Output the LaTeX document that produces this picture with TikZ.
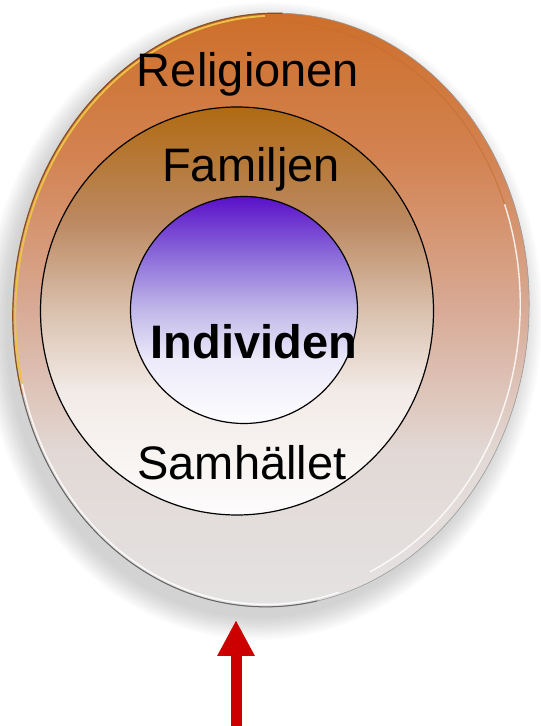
\documentclass[tikz,border=0pt]{standalone}
\usepackage{fontspec}
\setmainfont{Liberation Sans}
\usetikzlibrary{shapes.geometric, arrows.meta}
\definecolor{rimgold}{RGB}{236, 196, 70}
\definecolor{rimbrown}{RGB}{140, 78, 28}
\definecolor{rimorange}{RGB}{196, 110, 50}
\definecolor{arrowred}{RGB}{204, 0, 0}
% vertical shadings, bottom to top (the shape spans 25bp to 75bp)
\pgfdeclareverticalshading{discshade}{100bp}{
  rgb(0bp)=(0.894,0.886,0.886); rgb(25bp)=(0.894,0.886,0.886);
  rgb(37.5bp)=(0.886,0.851,0.839); rgb(50bp)=(0.847,0.663,0.580);
  rgb(62.5bp)=(0.827,0.510,0.314); rgb(75bp)=(0.804,0.431,0.157);
  rgb(100bp)=(0.804,0.431,0.157)}
\pgfdeclareverticalshading{famshade}{100bp}{
  rgb(0bp)=(0.992,0.988,0.988); rgb(25bp)=(0.992,0.988,0.988);
  rgb(40bp)=(0.949,0.922,0.906); rgb(50bp)=(0.855,0.757,0.682);
  rgb(61bp)=(0.737,0.537,0.380); rgb(75bp)=(0.690,0.416,0.071);
  rgb(100bp)=(0.690,0.416,0.071)}
\pgfdeclareverticalshading{indshade}{100bp}{
  rgb(0bp)=(0.992,0.992,1.000); rgb(25bp)=(0.992,0.992,1.000);
  rgb(39bp)=(0.925,0.918,0.980); rgb(50bp)=(0.757,0.722,0.910);
  rgb(62.5bp)=(0.537,0.408,0.851); rgb(75bp)=(0.353,0.063,0.784);
  rgb(100bp)=(0.353,0.063,0.784)}

\begin{document}
\begin{tikzpicture}[x=1pt, y=1pt,
  ringlabel/.style={font=\fontsize{47}{56}\selectfont, anchor=base, inner sep=0pt},
  ringline/.style={draw=black, line width=1.2pt},
  rimarc/.style={shift={(271,416)}, rotate=-4}]
  \useasboundingbox (0,0) rectangle (541,726);

  % Shadow
  \foreach \s in {1,...,12}
    \fill[black, opacity=0.014, shift={(263,405)}, rotate=-4] (0,0) ellipse ({255+2*\s} and {295+2*\s});

  % Disc
  \node[ellipse, minimum width=516pt, minimum height=594pt, rotate=-4, inner sep=0pt,
        shading=discshade, draw=black!40, line width=0.6pt] (relring) at (271,416) {};
  \draw[rimarc, rimbrown, line width=1.2pt]
    (92:258 and 297) arc[start angle=92, end angle=200, x radius=258, y radius=297];
  \draw[rimarc, rimgold, line width=1.8pt]
    (96:255.5 and 294.5) arc[start angle=96, end angle=198, x radius=255.5, y radius=294.5];
  \draw[rimarc, black!60, line width=1pt]
    (200:258 and 297) arc[start angle=200, end angle=285, x radius=258, y radius=297];
  \draw[rimarc, white, opacity=0.9, line width=1.3pt]
    (198:255.5 and 294.5) arc[start angle=198, end angle=290, x radius=255.5, y radius=294.5];
  \draw[rimarc, rimorange, opacity=0.7, line width=1pt]
    (25:249 and 288) arc[start angle=25, end angle=92, x radius=249, y radius=288];
  \draw[rimarc, white, opacity=0.85, line width=1.4pt]
    (-62:249 and 288) arc[start angle=-62, end angle=25, x radius=249, y radius=288];

  % Rings
  \node[ellipse, minimum width=393pt, minimum height=408pt, inner sep=0pt, ringline,
        shading=famshade] (famring) at (237,415) {};
  \node[circle, minimum size=227pt, inner sep=0pt, ringline,
        shading=indshade] (indring) at (244,416) {};

  % Labels
  \node[ringlabel] (lblrel) at (248,639) {Religionen};
  \node[ringlabel] (lblfam) at (251,544) {Familjen};
  \node[ringlabel, font=\fontsize{47}{56}\selectfont\bfseries] (lblind) at (254,367) {Individen};
  \node[ringlabel] (lblsam) at (242,246) {Samhället};

  % Arrow
  \coordinate (arrowfoot) at (236,0);
  \coordinate (arrowtip) at (236,106);
  \draw[arrowred, line width=11pt, -{Triangle[width=35pt, length=36pt]}] (arrowfoot) -- (arrowtip);
\end{tikzpicture}
\end{document}
